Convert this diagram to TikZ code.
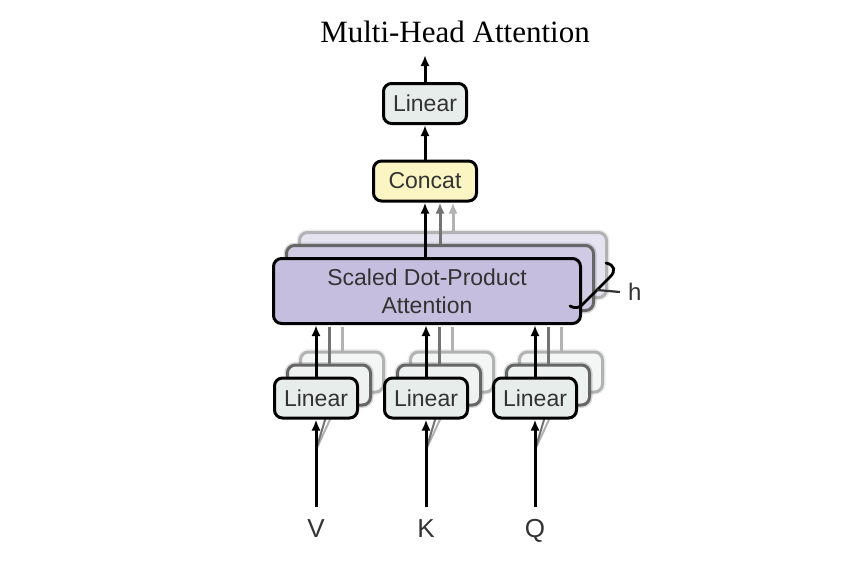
\documentclass[tikz,border=0pt]{standalone}
\usepackage{fontspec}
\setsansfont{Liberation Sans}
\newfontfamily\titlefont{Liberation Serif}
\usetikzlibrary{arrows.meta}
\definecolor{lingray}{HTML}{E7EDEB}
\definecolor{concaty}{HTML}{FBF5C3}
\definecolor{sdpap}{HTML}{C5BEDE}
\definecolor{sdpamid}{HTML}{D0CAE5}
\definecolor{sdpaback}{HTML}{E6E3F1}
\definecolor{linmid}{HTML}{EEF2F0}
\definecolor{linback}{HTML}{F4F6F5}
\tikzset{
  box/.style={draw, line width=3pt, rounded corners=8pt, inner sep=0pt,
    text=black!80, font=\sffamily\fontsize{23}{28}\selectfont, align=center},
  linbox/.style={box, fill=lingray, minimum width=83pt, minimum height=40pt},
  softedge/.style={preaction={draw, line width=6pt, draw opacity=0.25}},
  linmidbox/.style={linbox, draw=black!60, fill=linmid, softedge},
  linbackbox/.style={linbox, draw=black!30, fill=linback, softedge},
  sdpabox/.style={box, fill=sdpap, minimum width=307pt, minimum height=65pt},
  sdpamidbox/.style={sdpabox, draw=black!60, fill=sdpamid, softedge},
  sdpabackbox/.style={sdpabox, draw=black!30, fill=sdpaback, softedge},
  arr/.style={line width=3pt, -{Latex[length=11pt,width=9pt]}},
  midarr/.style={arr, draw=black!55},
  backarr/.style={arr, draw=black!30},
  midline/.style={line width=3pt, draw=black!55},
  backline/.style={line width=3pt, draw=black!30},
  lab/.style={font=\sffamily\fontsize{26}{30}\selectfont, text=black!80, inner sep=0pt, anchor=base},
}
\begin{document}
\begin{tikzpicture}[x=1pt,y=-1pt]
\useasboundingbox (0,0) rectangle (852,566);
% title
\node[font=\titlefont\fontsize{31}{36}\selectfont, anchor=base, inner sep=0pt] (title) at (455,42) {Multi-Head Attention};
\coordinate (out) at (425,55);
% SDPA shadows
\node[sdpabackbox] (sdpa3) at (453,265) {};
\node[sdpamidbox] (sdpa2) at (440,278) {};
% Linear shadows
\foreach \n/\x in {1/316,2/426,3/535}{
  \pgfmathsetmacro{\xb}{\x+26}
  \pgfmathsetmacro{\xm}{\x+13}
  \node[linbackbox] (lin\n c) at (\xb,372) {};
  \node[linmidbox] (lin\n b) at (\xm,385) {};
}
% main nodes
\node[box, fill=lingray, minimum width=83pt, minimum height=40pt] (lintop) at (425,103.5) {Linear};
\node[box, fill=concaty, minimum width=103pt, minimum height=40pt] (concat) at (425,181) {Concat};
% gray connectors from shadow layers
\foreach \n in {1,2,3}{
  \draw[backline] (lin\n c.north) -- (lin\n c.north |- 0,327);
  \draw[midline] (lin\n b.north) -- (lin\n b.north |- 0,327);
}
\draw[backarr] (sdpa3.north) -- (sdpa3.north |- concat.south);
\draw[midarr] (sdpa2.north) -- (sdpa2.north |- concat.south);
% input shadow diagonals
\foreach \n/\x in {1/316,2/426,3/535}{
  \coordinate (in\n s) at (\x,450);
  \draw[backline, line width=2pt] (in\n s) -- (lin\n c.south);
  \draw[midline, line width=2pt] (in\n s) -- (lin\n b.south);
}
% front SDPA and linears
\node[sdpabox] (sdpa) at (427,291) {Scaled Dot-Product\\Attention};
\node[linbox] (lin1) at (316,398) {Linear};
\node[linbox] (lin2) at (426,398) {Linear};
\node[linbox] (lin3) at (535,398) {Linear};
% labels
\node[lab] (V) at (316,537) {V};
\node[lab] (K) at (426,537) {K};
\node[lab] (Q) at (535,537) {Q};
\coordinate (vin) at (316,507);
\coordinate (kin) at (426,507);
\coordinate (qin) at (535,507);
% black connectors
\draw[arr] (vin) -- (lin1.south);
\draw[arr] (kin) -- (lin2.south);
\draw[arr] (qin) -- (lin3.south);
\draw[arr] (lin1.north) -- (lin1.north |- sdpa.south);
\draw[arr] (lin2.north) -- (lin2.north |- sdpa.south);
\draw[arr] (lin3.north) -- (lin3.north |- sdpa.south);
\draw[arr] (sdpa.north -| concat.south) -- (concat.south);
\draw[arr] (concat.north) -- (lintop.south);
\draw[arr] (lintop.north) -- (out);
% brace and h
\node[lab, anchor=west, inner xsep=8pt, font=\sffamily\fontsize{24}{28}\selectfont] (h) at (620,292) {h};
\draw[line width=2.8pt, line cap=round] (606,263) .. controls (615,265) and (616,271) .. (610,277)
  -- (584,303) .. controls (580,308) and (575,309) .. (570,306);
\coordinate (hb) at (597,290);
\draw[line width=2.2pt, draw=black!80] (hb) -- (h.west);
\end{tikzpicture}
\end{document}
